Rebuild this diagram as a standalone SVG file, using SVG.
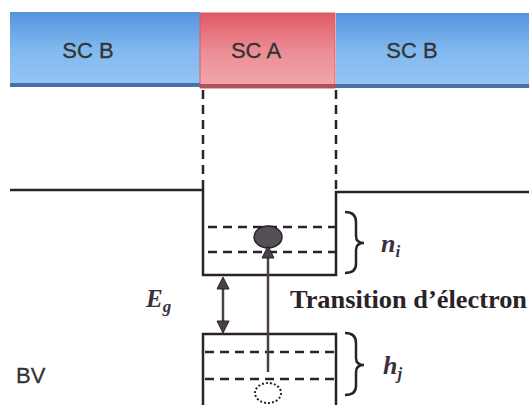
<svg xmlns="http://www.w3.org/2000/svg" width="529" height="405" viewBox="0 0 529 405">
<defs>
<linearGradient id="gb" x1="0" y1="0" x2="0" y2="1">
<stop offset="0" stop-color="#5494de"/>
<stop offset="0.5" stop-color="#80b8ef"/>
<stop offset="1" stop-color="#94c6f4"/>
</linearGradient>
<linearGradient id="gr" x1="0" y1="0" x2="0" y2="1">
<stop offset="0" stop-color="#de5a66"/>
<stop offset="0.5" stop-color="#ec8c94"/>
<stop offset="1" stop-color="#f2a8ad"/>
</linearGradient>
<style>
.ln{stroke:#2a2228;stroke-width:2.5;fill:none}
.dash{stroke:#2a2228;stroke-width:2.5;fill:none;stroke-dasharray:9,6}
.lbl{font-family:"Liberation Sans","DejaVu Sans",sans-serif;font-size:22px;fill:#333333;stroke:#333333;stroke-width:0.3}
.math{font-family:"Liberation Serif","DejaVu Serif",serif;font-style:italic;font-weight:bold;fill:#3a3040}
.ser{font-family:"Liberation Serif","DejaVu Serif",serif;font-size:26px;font-weight:bold;fill:#2a2228}
.arr{stroke:#4a4048;stroke-width:2.5;fill:none}
.head{fill:#4a4048;stroke:#2a2228;stroke-width:1}
</style>
</defs>
<rect width="529" height="405" fill="#ffffff"/>
<g id="scB-left">
<rect x="10" y="12" width="190" height="74" fill="url(#gb)"/>
<rect x="10" y="83" width="190" height="4" fill="#4a6fa8"/>
<text class="lbl" x="88" y="58" text-anchor="middle">SC B</text>
</g>
<g id="scA">
<rect x="200" y="13" width="135" height="75" fill="url(#gr)" stroke="#d65a64" stroke-width="1"/>
<rect x="200" y="84" width="136" height="4" fill="#b05058"/>
<text class="lbl" x="256" y="58" text-anchor="middle">SC A</text>
</g>
<g id="scB-right">
<rect x="336" y="13" width="193" height="73" fill="url(#gb)"/>
<rect x="336" y="84" width="193" height="4" fill="#4a6fa8"/>
<text class="lbl" x="412" y="58" text-anchor="middle">SC B</text>
</g>
<g id="band-profile">
<line class="dash" x1="203" y1="90" x2="203" y2="190"/>
<line class="dash" x1="336" y1="90" x2="336" y2="190"/>
<path class="ln" d="M10,190 H203 V275 H336 V192 H529"/>
<path class="ln" d="M203,405 V334 H336 V405"/>
</g>
<g id="well-levels">
<line class="dash" x1="208" y1="227" x2="336" y2="227"/>
<line class="dash" x1="208" y1="252" x2="336" y2="252"/>
</g>
<g id="valence-levels">
<line class="dash" x1="205" y1="352" x2="336" y2="352"/>
<line class="dash" x1="205" y1="379" x2="336" y2="379"/>
</g>
<g id="electron">
<ellipse cx="268" cy="237" rx="14" ry="11" fill="#555058" stroke="#2a2228" stroke-width="1.5"/>
</g>
<g id="hole">
<ellipse cx="268" cy="393" rx="13" ry="10" fill="none" stroke="#2a2228" stroke-width="2" stroke-dasharray="2,2"/>
</g>
<g id="connectors">
<line class="arr" x1="268" y1="372" x2="268" y2="256"/>
<polygon class="head" points="268,246 274,258 262,258"/>
<line class="arr" x1="223" y1="286" x2="223" y2="323"/>
<polygon class="head" points="223,277 229,289 217,289"/>
<polygon class="head" points="223,333 229,321 217,321"/>
</g>
<g id="braces">
<path class="ln" stroke-width="2" d="M345,212 Q356,212 356,222 V236 Q356,243 364,243 Q356,243 356,250 V264 Q356,273 345,273"/>
<path class="ln" stroke-width="2" d="M345,333 Q356,333 356,343 V358 Q356,365 364,365 Q356,365 356,372 V386 Q356,395 345,395"/>
</g>
<g id="labels">
<text class="math" x="381" y="252" font-size="26">n<tspan font-size="17" dy="5">i</tspan></text>
<text class="math" x="383" y="374" font-size="26">h<tspan font-size="17" dy="5">j</tspan></text>
<text class="math" x="146" y="307" font-size="25">E<tspan font-size="17" dy="5">g</tspan></text>
<text class="ser" x="290" y="308" textLength="237" lengthAdjust="spacingAndGlyphs">Transition d’électron</text>
<text class="lbl" x="16" y="383">BV</text>
</g>
</svg>
